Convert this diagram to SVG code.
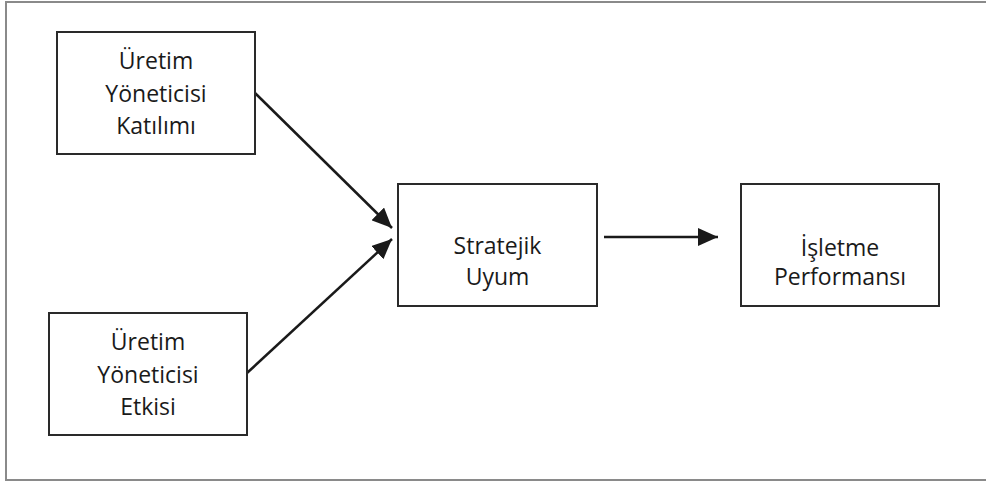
<svg xmlns="http://www.w3.org/2000/svg" width="986" height="481" viewBox="0 0 986 481">
<defs>
<marker id="ah" markerUnits="userSpaceOnUse" markerWidth="20" markerHeight="18" viewBox="0 0 20 18" refX="20" refY="9" orient="auto">
<path d="M0,0 L20,9 L0,18 Z" fill="#1a1a1a"/>
</marker>
<style>
.box{fill:#fff;stroke:#2a2a2a;stroke-width:2}
.lbl{font-family:"Open Sans","Noto Sans",sans-serif;font-size:23px;fill:#1a1a1a;text-anchor:middle}
.conn{stroke:#1a1a1a;stroke-width:2.5;fill:none}
.frame{stroke:#8a8a8a;stroke-width:2;fill:none}
</style>
</defs>
<rect width="986" height="481" fill="#fff"/>
<path class="frame" d="M986,2 L6,2 L6,480 L986,480"/>
<g id="connectors">
<line class="conn" x1="255" y1="93" x2="392" y2="228" marker-end="url(#ah)"/>
<line class="conn" x1="247" y1="373" x2="392" y2="239" marker-end="url(#ah)"/>
<line class="conn" x1="604" y1="237" x2="718" y2="237" marker-end="url(#ah)"/>
</g>
<g id="node-katilim">
<rect class="box" x="57" y="32" width="198" height="122"/>
<text class="lbl" x="156" y="69">Üretim</text>
<text class="lbl" x="156" y="102">Yöneticisi</text>
<text class="lbl" x="156" y="134">Katılımı</text>
</g>
<g id="node-etki">
<rect class="box" x="49" y="313" width="198" height="122"/>
<text class="lbl" x="148" y="350">Üretim</text>
<text class="lbl" x="148" y="383">Yöneticisi</text>
<text class="lbl" x="148" y="415">Etkisi</text>
</g>
<g id="node-uyum">
<rect class="box" x="398" y="184" width="199" height="122"/>
<text class="lbl" x="497.5" y="254">Stratejik</text>
<text class="lbl" x="497.5" y="285">Uyum</text>
</g>
<g id="node-performans">
<rect class="box" x="741" y="184" width="198" height="122"/>
<text class="lbl" x="840" y="256">İşletme</text>
<text class="lbl" x="840" y="285">Performansı</text>
</g>
</svg>
